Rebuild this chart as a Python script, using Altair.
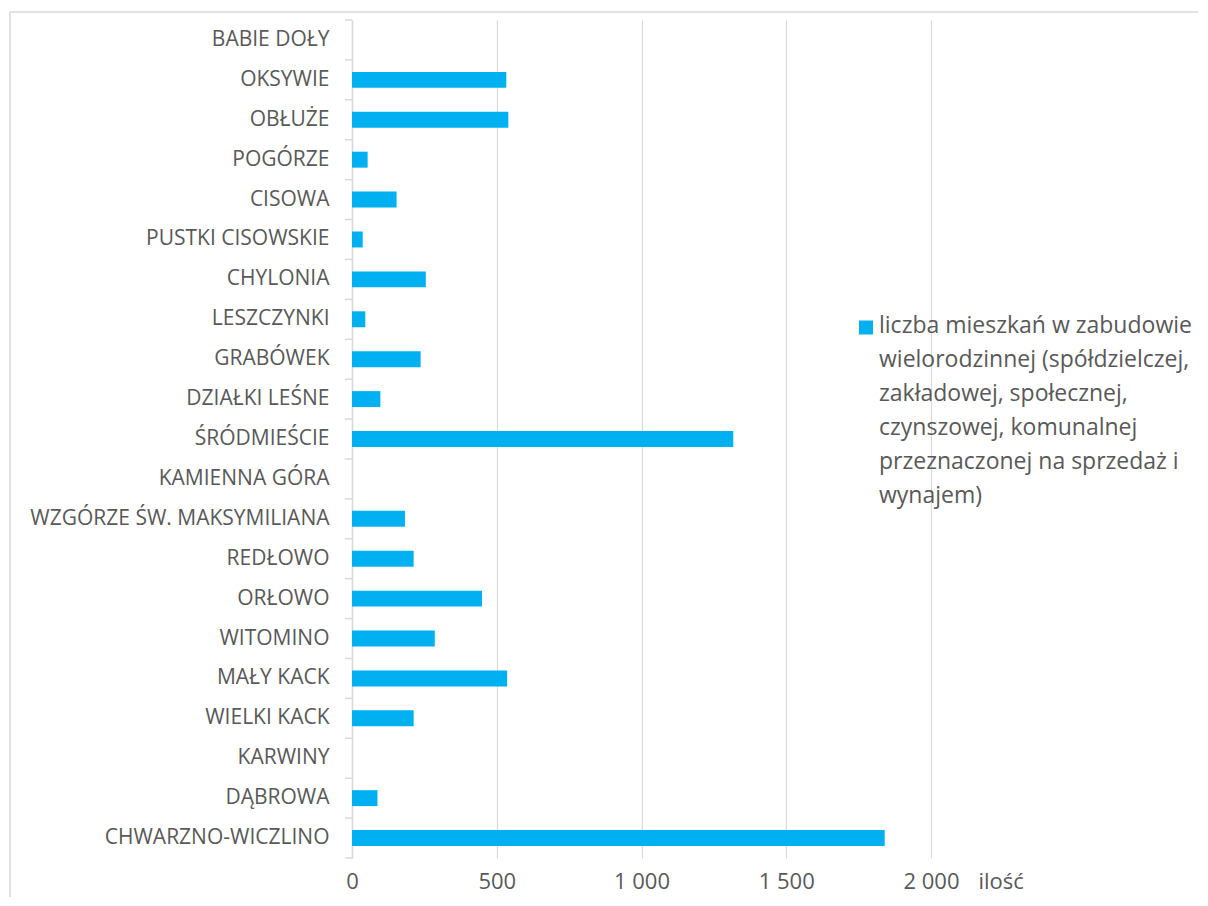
import altair as alt
import pandas as pd

districts = [
    "BABIE DOŁY", "OKSYWIE", "OBŁUŻE", "POGÓRZE", "CISOWA", "PUSTKI CISOWSKIE",
    "CHYLONIA", "LESZCZYNKI", "GRABÓWEK", "DZIAŁKI LEŚNE", "ŚRÓDMIEŚCIE",
    "KAMIENNA GÓRA", "WZGÓRZE ŚW. MAKSYMILIANA", "REDŁOWO", "ORŁOWO", "WITOMINO",
    "MAŁY KACK", "WIELKI KACK", "KARWINY", "DĄBROWA", "CHWARZNO-WICZLINO",
]
values = [0, 533, 540, 54, 154, 37, 255, 46, 237, 98, 1317, 0, 183, 213, 449,
          286, 536, 213, 0, 88, 1840]
x_ticks = [0, 500, 1000, 1500, 2000]
series_lines = [
    "liczba mieszkań w zabudowie",
    "wielorodzinnej (spółdzielczej,",
    "zakładowej, społecznej,",
    "czynszowej, komunalnej",
    "przeznaczonej na sprzedaż i",
    "wynajem)",
]
x_title = "ilość"

FONT = "Open Sans"
TXT = "#595959"
GRID = "#d9d9d9"
BAR = "#00B0F0"

df = pd.DataFrame({"dzielnica": districts, "ilosc": values})
one = pd.DataFrame({"k": [0]})
leg = pd.DataFrame({"label": ["\n".join(series_lines)]})

W, H = 579, 838
STEP = H / len(districts)
y_scale = alt.Scale(paddingInner=0.6, paddingOuter=0.3)

bars = alt.Chart(df).mark_bar(color=BAR).encode(
    y=alt.Y(
        "dzielnica:N",
        sort=districts,
        scale=y_scale,
        axis=alt.Axis(
            title=None, ticks=False, domainColor=GRID,
            domainWidth=1.5, labelPadding=23, labelFont=FONT, labelFontSize=21,
            labelColor=TXT, labelLimit=400, grid=False,
        ),
    ),
    x=alt.X(
        "ilosc:Q",
        scale=alt.Scale(domain=[0, 2000], nice=False),
        axis=alt.Axis(
            values=x_ticks, title=x_title, domain=False, ticks=False, tickSize=0,
            grid=True, gridColor=GRID, gridWidth=1.2,
            labelExpr="replace(format(datum.value, ','), ',', ' ')",
            labelFont=FONT, labelFontSize=22, labelColor=TXT, labelPadding=13,
            labelBaseline="top", labelFlush=False,
            titleFont=FONT, titleFontSize=22, titleColor=TXT, titleFontWeight="normal",
            titleAlign="left", titleBaseline="top", titleX=626, titleY=13,
        ),
    ),
)

cat_ticks = alt.Chart(df).mark_rule(
    color=GRID, strokeWidth=1.5, yOffset=-STEP / 2
).encode(
    y=alt.Y("dzielnica:N", sort=districts, scale=y_scale),
    x=alt.value(-7), x2=alt.value(0),
)

last_tick = alt.Chart(one).mark_rule(color=GRID, strokeWidth=1.5).encode(
    x=alt.value(-7), x2=alt.value(0), y=alt.value(H)
)

border = alt.Chart(one).mark_rect(fillOpacity=0, stroke=GRID, strokeWidth=1.5).encode(
    x=alt.value(-342), x2=alt.value(1500), y=alt.value(-8), y2=alt.value(1500)
)

leg_sym = alt.Chart(one).mark_square(color=BAR, size=196, opacity=1).encode(
    x=alt.value(514), y=alt.value(307.5)
)

leg_txt = alt.Chart(leg).mark_text(
    align="left", baseline="top", lineBreak="\n", lineHeight=34,
    font=FONT, fontSize=23, color=TXT,
).encode(text="label:N", x=alt.value(527), y=alt.value(295))

chart = alt.layer(border, bars, cat_ticks, last_tick, leg_sym, leg_txt).properties(
    width=W, height=H,
    autosize=alt.AutoSizeParams(type="none"),
    padding={"left": 344, "top": 12, "right": 267, "bottom": 39},
).configure_view(stroke=None)

chart.save("out.html", embed_options={"renderer": "svg", "actions": False})
